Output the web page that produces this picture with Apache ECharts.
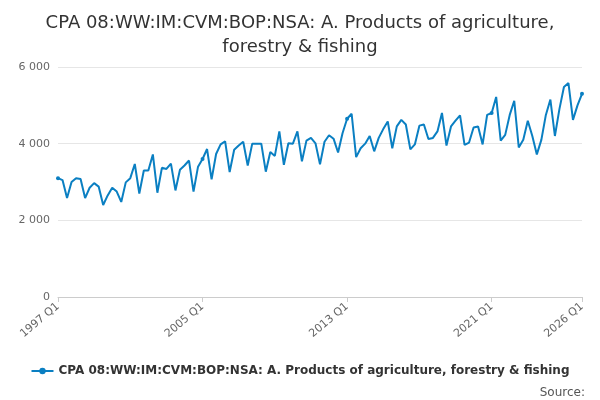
<!DOCTYPE html><html><head><meta charset="utf-8"><script src="https://cdn.jsdelivr.net/npm/echarts@6/dist/echarts.min.js"></script></head><body style="margin:0"><div id="c" style="width:600px;height:400px"></div><script>
const seriesName='CPA 08:WW:IM:CVM:BOP:NSA: A. Products of agriculture, forestry & fishing';
const values=[3100,3050,2580,3000, 3100,3080,2580,2850, 2970,2880,2400,2650, 2850,2750,2480,2990,
3100,3470,2700,3300, 3300,3720,2720,3370, 3340,3480,2780,3320, 3430,3560,2750,3400,
3600,3860,3070,3730, 3980,4060,3260,3840, 3950,4050,3430,4000, 4000,4000,3270,3780,
3680,4320,3450,4010, 4000,4320,3540,4080, 4150,4010,3460,4050, 4220,4130,3770,4280,
4650,4780,3650,3880, 4000,4200,3800,4150, 4380,4580,3880,4450, 4620,4500,3850,3980,
4470,4500,4120,4150, 4320,4800,3950,4450, 4600,4740,3970,4030, 4420,4450,3980,4750,
4800,5220,4080,4230, 4750,5120,3900,4100, 4600,4200,3720,4100, 4750,5150,4200,4900,
5480,5580,4620,5000, 5300];
const categories=[];
for(let i=0;i<values.length;i++){categories.push((1997+Math.floor(i/4))+' Q'+(i%4+1));}
const last=values.length-1;
const show=(i)=>i%32===0||i===last;
const ch=echarts.init(document.getElementById('c'));
ch.setOption({
title:[{text:'CPA 08:WW:IM:CVM:BOP:NSA: A. Products of agriculture,\nforestry & fishing',left:'center',top:6,textStyle:{fontFamily:'DejaVu Sans',fontSize:18,fontWeight:'normal',color:'#333',lineHeight:24}},
{text:'Source:',right:10,top:382,textStyle:{fontFamily:'DejaVu Sans',fontSize:12,fontWeight:'normal',color:'#555'}}],
legend:{bottom:18,left:'center',itemWidth:22,itemHeight:8,textStyle:{fontFamily:'DejaVu Sans',fontSize:12,fontWeight:'bold',color:'#333'},data:[seriesName]},
grid:{left:58,right:18,top:67,bottom:103},
xAxis:{type:'category',data:categories,boundaryGap:false,
axisLine:{lineStyle:{color:'#ccc'}},axisTick:{interval:(i)=>show(i),lineStyle:{color:'#ccc'}},
axisLabel:{interval:(i)=>show(i),rotate:40,color:'#666',fontFamily:'DejaVu Sans',fontSize:11}},
yAxis:{type:'value',min:0,max:6000,interval:2000,axisLine:{show:false},axisTick:{show:false},
splitLine:{lineStyle:{color:'#e6e6e6'}},
axisLabel:{color:'#666',fontFamily:'DejaVu Sans',fontSize:11,formatter:(v)=>v>=1000?Math.floor(v/1000)+' '+String(v%1000).padStart(3,'0'):String(v)}},
series:[{name:seriesName,type:'line',data:values,symbol:'circle',symbolSize:4,itemStyle:{color:'#0a7fc2'},lineStyle:{width:2,color:'#0a7fc2'}}]
});
</script></body></html>
